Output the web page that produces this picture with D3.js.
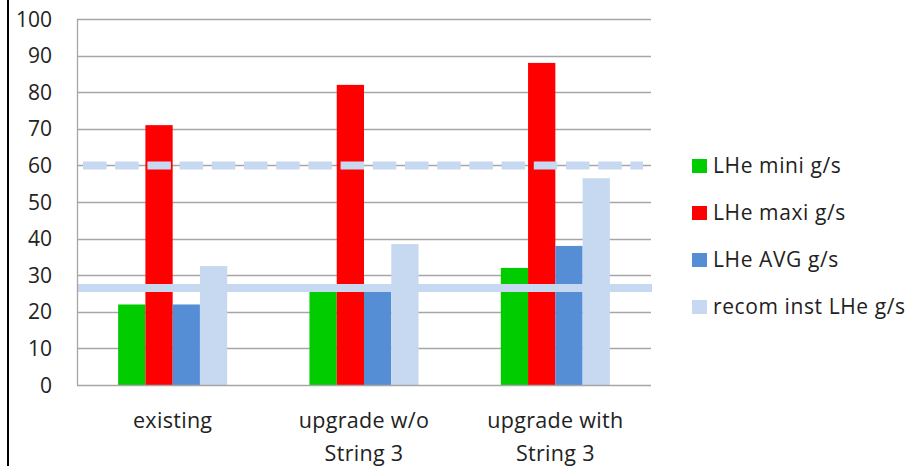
<!DOCTYPE html>
<html>
<head>
<meta charset="utf-8">
<script src="https://cdn.jsdelivr.net/npm/d3@7"></script>
<style>
  html, body { margin: 0; padding: 0; background: #fff; }
  svg { display: block; }
  text { font-family: "Open Sans", sans-serif; fill: #222; }
</style>
</head>
<body>
<svg id="chart" width="910" height="466"></svg>
<script>
// Helium consumption per scenario
const categories = ["existing", "upgrade w/o\nString 3", "upgrade with\nString 3"];
const seriesNames = ["LHe mini g/s", "LHe maxi g/s", "LHe AVG g/s", "recom inst LHe g/s"];
const seriesColors = ["#00CC00", "#FF0000", "#558ED5", "#C6D9F1"];
const lheMini = [22, 26, 32];
const lheMaxi = [71, 82, 88];
const lheAvg = [22, 26, 38];
const recomInst = [32.5, 38.5, 56.5];
// Reference levels drawn across the plot
const refLevels = [60, 26.5];
const refDashed = [true, false];
const yTicks = [0, 10, 20, 30, 40, 50, 60, 70, 80, 90, 100];

const seriesValues = [lheMini, lheMaxi, lheAvg, recomInst];

const svg = d3.select("#chart");
const plot = { left: 77, right: 651, top: 19, bottom: 385 };

const x0 = d3.scaleBand()
  .domain(categories)
  .range([plot.left, plot.right])
  .paddingInner(0.43)
  .paddingOuter(0.215);

const x1 = d3.scaleBand()
  .domain(seriesNames)
  .range([0, x0.bandwidth()]);

const y = d3.scaleLinear().domain([0, 100]).range([plot.bottom, plot.top]);

// Left frame line
svg.append("line")
  .attr("x1", 8).attr("x2", 8).attr("y1", 0).attr("y2", 466)
  .attr("stroke", "#000").attr("stroke-width", 2);

// Horizontal gridlines
svg.append("g")
  .selectAll("line")
  .data(yTicks.filter(d => d > 0))
  .join("line")
  .attr("x1", plot.left).attr("x2", plot.right)
  .attr("y1", d => Math.round(y(d)) + 0.5).attr("y2", d => Math.round(y(d)) + 0.5)
  .attr("stroke", "#A6A6A6").attr("stroke-width", 1.3);

// Bars
const rows = categories.map((c, i) => ({
  cat: c,
  vals: seriesNames.map((s, j) => ({ s, v: seriesValues[j][i], color: seriesColors[j] }))
}));

svg.append("g")
  .selectAll("g")
  .data(rows)
  .join("g")
  .attr("transform", d => `translate(${x0(d.cat)},0)`)
  .selectAll("rect")
  .data(d => d.vals)
  .join("rect")
  .attr("x", d => x1(d.s))
  .attr("width", x1.bandwidth())
  .attr("y", d => y(d.v))
  .attr("height", d => y(0) - y(d.v))
  .attr("fill", d => d.color);

// Reference lines
svg.append("g")
  .selectAll("line")
  .data(refLevels.map((v, i) => ({ v, dashed: refDashed[i] })))
  .join("line")
  .attr("x1", d => d.dashed ? plot.left + 6 : plot.left)
  .attr("x2", d => d.dashed ? plot.right - 8 : plot.right + 1)
  .attr("y1", d => y(d.v)).attr("y2", d => y(d.v))
  .attr("stroke", "#C6D9F1")
  .attr("stroke-width", 8)
  .attr("stroke-dasharray", d => d.dashed ? "23.5 8.7" : null);

// Axes lines
svg.append("line")
  .attr("x1", plot.left + 0.5).attr("x2", plot.left + 0.5)
  .attr("y1", plot.top).attr("y2", plot.bottom)
  .attr("stroke", "#A6A6A6").attr("stroke-width", 1.3);
svg.append("line")
  .attr("x1", plot.left).attr("x2", plot.right)
  .attr("y1", plot.bottom + 0.5).attr("y2", plot.bottom + 0.5)
  .attr("stroke", "#A6A6A6").attr("stroke-width", 1.3);

// Y tick labels
svg.append("g")
  .selectAll("text")
  .data(yTicks)
  .join("text")
  .attr("x", 52)
  .attr("y", d => y(d))
  .attr("dy", "0.36em")
  .attr("text-anchor", "end")
  .attr("font-size", 21)
  .text(d => d);

// Category labels
svg.append("g")
  .selectAll("text")
  .data(categories)
  .join("text")
  .attr("text-anchor", "middle")
  .attr("font-size", 21.5)
  .attr("letter-spacing", 0.3)
  .each(function (d) {
    const t = d3.select(this);
    const cx = x0(d) + x0.bandwidth() / 2;
    d.split("\n").forEach((line, k) => {
      t.append("tspan").attr("x", cx).attr("y", 428 + k * 33).text(line);
    });
  });

// Legend
const legend = svg.append("g")
  .selectAll("g")
  .data(seriesNames)
  .join("g")
  .attr("transform", (d, i) => `translate(692,${173 + i * 47})`);
legend.append("rect")
  .attr("x", 0).attr("y", -14).attr("width", 15).attr("height", 14)
  .attr("fill", (d, i) => seriesColors[i]);
legend.append("text")
  .attr("x", 21).attr("y", 0)
  .attr("font-size", 21)
  .attr("letter-spacing", 0.6)
  .text(d => d);
</script>
</body>
</html>
